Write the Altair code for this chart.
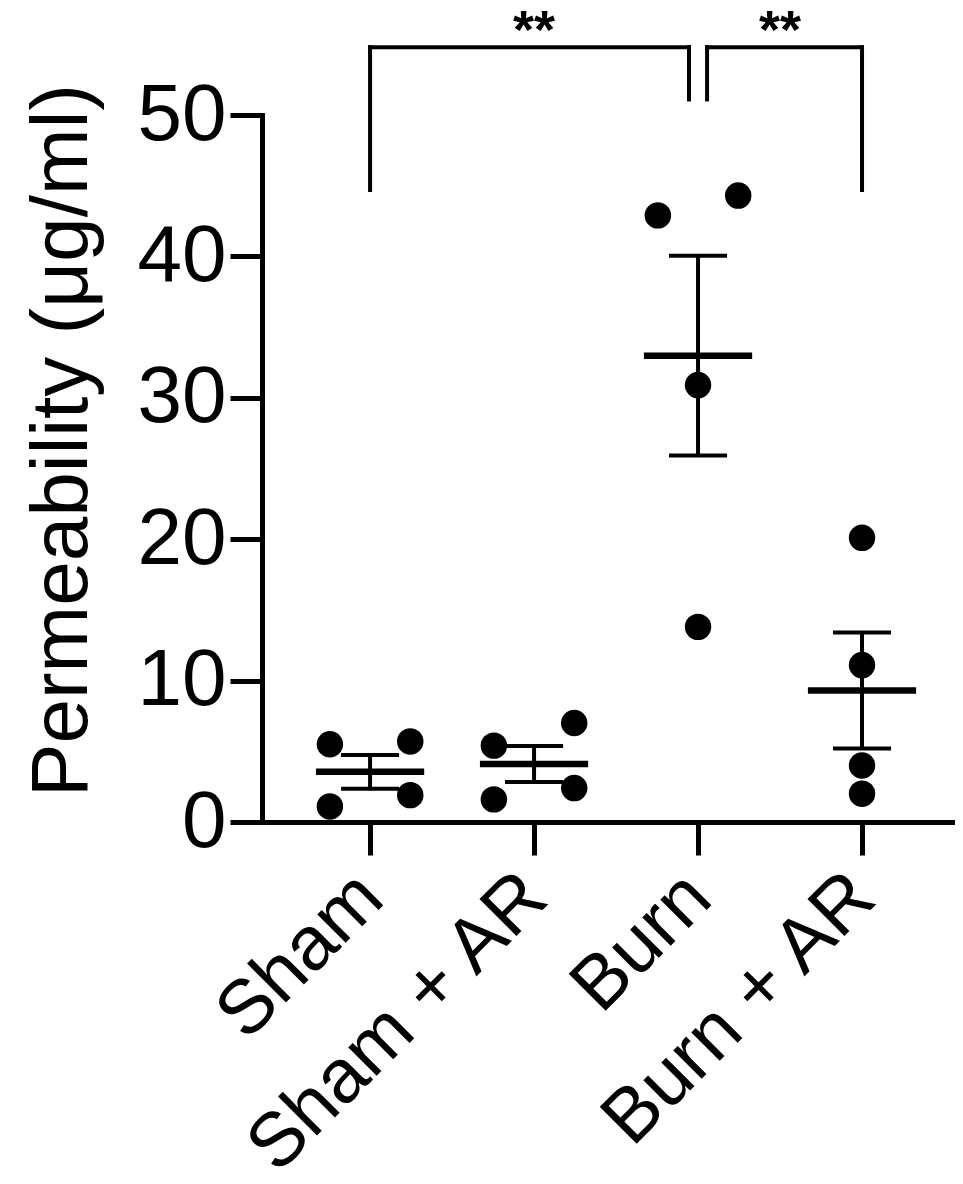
import json
import altair as alt
import pandas as pd

# ---- data ----
groups = ["Sham", "Sham + AR", "Burn", "Burn + AR"]
sham = [5.5, 1.1, 5.7, 1.9]
sham_ar = [5.4, 1.6, 7.0, 2.4]
burn = [42.9, 44.3, 30.9, 13.8]
burn_ar = [20.1, 11.1, 4.0, 2.0]
# swarm slot of each point inside its group (-1 left, 0 centre, +1 right)
sham_slot = [-1, -1, 1, 1]
sham_ar_slot = [-1, -1, 1, 1]
burn_slot = [-1, 1, 0, 0]
burn_ar_slot = [0, 0, 0, 0]

# significance brackets
bracket_from = ["Sham", "Burn"]
bracket_to = ["Burn", "Burn + AR"]
bracket_label = ["**", "**"]
bracket_top = 54.8
bracket_left_leg = [44.7, 51.1]
bracket_right_leg = [51.1, 44.7]

y_ticks = [0, 10, 20, 30, 40, 50]

# ---- tables ----
rows = []
for g, vals, slots in zip(groups, [sham, sham_ar, burn, burn_ar],
                          [sham_slot, sham_ar_slot, burn_slot, burn_ar_slot]):
    for v, s in zip(vals, slots):
        rows.append({"group": g, "idx": groups.index(g), "value": v, "slot": s})
pts = pd.DataFrame(rows)

GAP = 0.055  # small gap where the two brackets meet
seg = []
lab = []
for f, t, l, ll, rl in zip(bracket_from, bracket_to, bracket_label,
                           bracket_left_leg, bracket_right_leg):
    a, b = groups.index(f), groups.index(t)
    xa = a + (GAP if a == 2 else 0)
    xb = b - (GAP if b == 2 else 0)
    seg.append({"x": xa, "x2": xb, "y": bracket_top, "y2": bracket_top})
    seg.append({"x": xa, "x2": xa, "y": ll, "y2": bracket_top})
    seg.append({"x": xb, "x2": xb, "y": rl, "y2": bracket_top})
    lab.append({"x": (a + b) / 2, "y": bracket_top, "text": l})
segs = pd.DataFrame(seg)
labs = pd.DataFrame(lab)

FONT = "Liberation Sans"
label_expr = json.dumps(groups) + "[datum.value]"

xscale = alt.Scale(domain=[-0.659, 3.567], nice=False, zero=False)
yscale = alt.Scale(domain=[0, 50], nice=False)

x_axis = alt.Axis(values=[0, 1, 2, 3], labelExpr=label_expr, title=None,
                  labelAngle=-45, labelAlign="right", labelBaseline="middle",
                  labelFontSize=76, labelFont=FONT, labelColor="black",
                  labelPadding=30, labelLimit=2000,
                  tickSize=33, tickWidth=5, tickColor="black",
                  domainWidth=5, domainColor="black", domainCap="square",
                  grid=False, labelOverlap=False, labelFlush=False)
y_axis = alt.Axis(values=y_ticks, title="Permeability (μg/ml)", format="d",
                  labelFontSize=80, labelFont=FONT, labelColor="black",
                  labelPadding=4, tickSize=32, tickWidth=5, tickColor="black",
                  domainWidth=5, domainColor="black", domainCap="square",
                  grid=False, titleFont=FONT, titleFontSize=80,
                  titleFontWeight="normal", titleColor="black",
                  titleX=-200, titleY=325, titleAngle=-90,
                  titleAlign="center", titleBaseline="middle")

base = alt.Chart(pts)

points = base.transform_calculate(
    xp="datum.idx + datum.slot * 0.245"
).mark_circle(size=700, color="black", opacity=1).encode(
    x=alt.X("xp:Q", scale=xscale, axis=x_axis),
    y=alt.Y("value:Q", scale=yscale, axis=y_axis),
)

stats = base.transform_aggregate(
    m="mean(value)", se="stderr(value)", groupby=["idx"]
).transform_calculate(
    lo="datum.m - datum.se", hi="datum.m + datum.se",
    ml="datum.idx - 0.33", mr="datum.idx + 0.33",
    cl="datum.idx - 0.177", cr="datum.idx + 0.177",
)

mean_line = stats.mark_rule(color="black", strokeWidth=6.5).encode(
    x=alt.X("ml:Q", scale=xscale), x2="mr:Q", y=alt.Y("m:Q", scale=yscale))
stem = stats.mark_rule(color="black", strokeWidth=4).encode(
    x=alt.X("idx:Q", scale=xscale), y=alt.Y("lo:Q", scale=yscale), y2="hi:Q")
cap_hi = stats.mark_rule(color="black", strokeWidth=4).encode(
    x=alt.X("cl:Q", scale=xscale), x2="cr:Q", y=alt.Y("hi:Q", scale=yscale))
cap_lo = stats.mark_rule(color="black", strokeWidth=4).encode(
    x=alt.X("cl:Q", scale=xscale), x2="cr:Q", y=alt.Y("lo:Q", scale=yscale))

brackets = alt.Chart(segs).mark_rule(color="black", strokeWidth=4,
                                     strokeCap="square", clip=False).encode(
    x=alt.X("x:Q", scale=xscale), x2="x2:Q",
    y=alt.Y("y:Q", scale=yscale), y2="y2:Q")
stars = alt.Chart(labs).mark_text(font=FONT, fontSize=54, fontWeight="bold",
                                  color="black", baseline="alphabetic",
                                  dy=1, clip=False).encode(
    x=alt.X("x:Q", scale=xscale), y=alt.Y("y:Q", scale=yscale), text="text:N")

chart = alt.layer(points, mean_line, stem, cap_hi, cap_lo, brackets, stars).properties(
    width=693, height=707,
    padding={"left": 254, "top": 107, "right": 0, "bottom": 354},
    autosize="none",
    background="white",
).configure_view(stroke=None)

chart.save("out.html", embed_options={"renderer": "svg", "actions": False})
